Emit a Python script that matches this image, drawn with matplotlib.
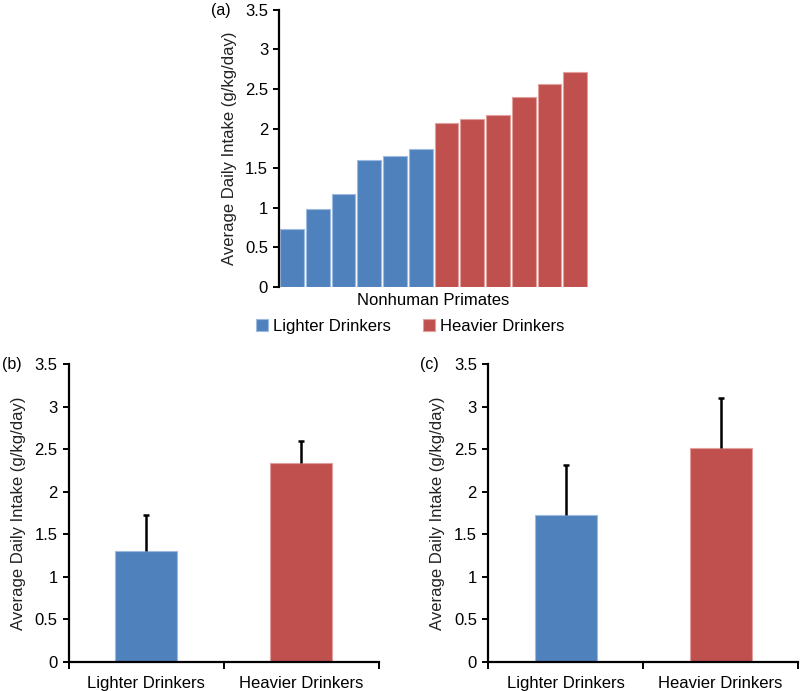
import matplotlib.pyplot as plt
import numpy as np

plt.rcParams["font.family"] = ["Liberation Sans", "DejaVu Sans"]

BLUE = "#4F81BD"
RED = "#C0504D"

# (a) individual animals, sorted by intake
light_vals = [0.73, 0.98, 1.17, 1.61, 1.66, 1.74]
heavy_vals = [2.07, 2.12, 2.17, 2.40, 2.57, 2.71]

# (b) and (c) group means with upper error bar
groups = ["Lighter Drinkers", "Heavier Drinkers"]
b_means = [1.31, 2.34]
b_err = [0.42, 0.26]
c_means = [1.73, 2.52]
c_err = [0.58, 0.58]

ylabel = "Average Daily Intake (g/kg/day)"
yticks = [0, 0.5, 1, 1.5, 2, 2.5, 3, 3.5]
ytick_labels = ["0", "0.5", "1", "1.5", "2", "2.5", "3", "3.5"]


def style_axis(ax):
    ax.spines["top"].set_visible(False)
    ax.spines["right"].set_visible(False)
    ax.spines["left"].set_linewidth(1.6)
    ax.spines["bottom"].set_linewidth(1.6)
    ax.set_ylim(0, 3.5)
    ax.set_yticks(yticks)
    ax.set_yticklabels(ytick_labels)
    ax.tick_params(axis="y", direction="out", length=4, width=1.4, labelsize=12, pad=4)
    ax.set_ylabel(ylabel, fontsize=12, color="#222222", labelpad=6)


fig = plt.figure(figsize=(8, 6.91), dpi=100)

# ---- panel (a)
ax_a = fig.add_axes([0.349, 0.5847, 0.386, 0.401])
n_l = len(light_vals)
x_l = np.arange(n_l)
x_h = np.arange(n_l, n_l + len(heavy_vals))
ax_a.bar(x_l, light_vals, width=0.92, color=BLUE, edgecolor="#9dbbe0", linewidth=0.8,
         label="Lighter Drinkers")
ax_a.bar(x_h, heavy_vals, width=0.92, color=RED, edgecolor="#e0a09e", linewidth=0.8,
         label="Heavier Drinkers")
style_axis(ax_a)
ax_a.spines["bottom"].set_visible(False)
ax_a.set_xlim(-0.5, n_l + len(heavy_vals) - 0.5)
ax_a.set_xticks([])
ax_a.set_xlabel("Nonhuman Primates", fontsize=12, labelpad=4)
ax_a.legend(loc="upper center", bbox_to_anchor=(0.424, -0.06), ncol=2, frameon=False,
            fontsize=12, handlelength=0.7, handleheight=0.7, handletextpad=0.3,
            columnspacing=1.95)
fig.text(0.264, 0.985, "(a)", fontsize=11.5, ha="left", va="center")

# ---- panels (b) and (c)
for left, means, errs, tag, tag_x in [(0.086, b_means, b_err, "(b)", 0.002),
                                      (0.61, c_means, c_err, "(c)", 0.525)]:
    ax = fig.add_axes([left, 0.042, 0.3875, 0.431])
    x = np.arange(len(groups))
    ax.bar(x, means, width=0.4, color=[BLUE, RED],
           edgecolor=["#9dbbe0", "#e0a09e"], linewidth=0.8)
    eb = ax.errorbar(x, means, yerr=[np.zeros(len(errs)), errs], fmt="none",
                     ecolor="black", elinewidth=1.8, capsize=2.5, capthick=1.8)
    # only the upper cap, like the original
    eb[1][0].set_visible(False)
    style_axis(ax)
    ax.set_xlim(-0.5, len(groups) - 0.5)
    ax.set_xticks(x)
    ax.set_xticklabels(groups, fontsize=12)
    ax.tick_params(axis="x", which="major", length=0, pad=10)
    ax.set_xticks([-0.5, 0.5, 1.5], minor=True)
    ax.tick_params(axis="x", which="minor", direction="out", length=5, width=1.4)
    fig.text(tag_x, 0.473, tag, fontsize=11.5, ha="left", va="center")

fig.savefig("out.png", dpi=100)
